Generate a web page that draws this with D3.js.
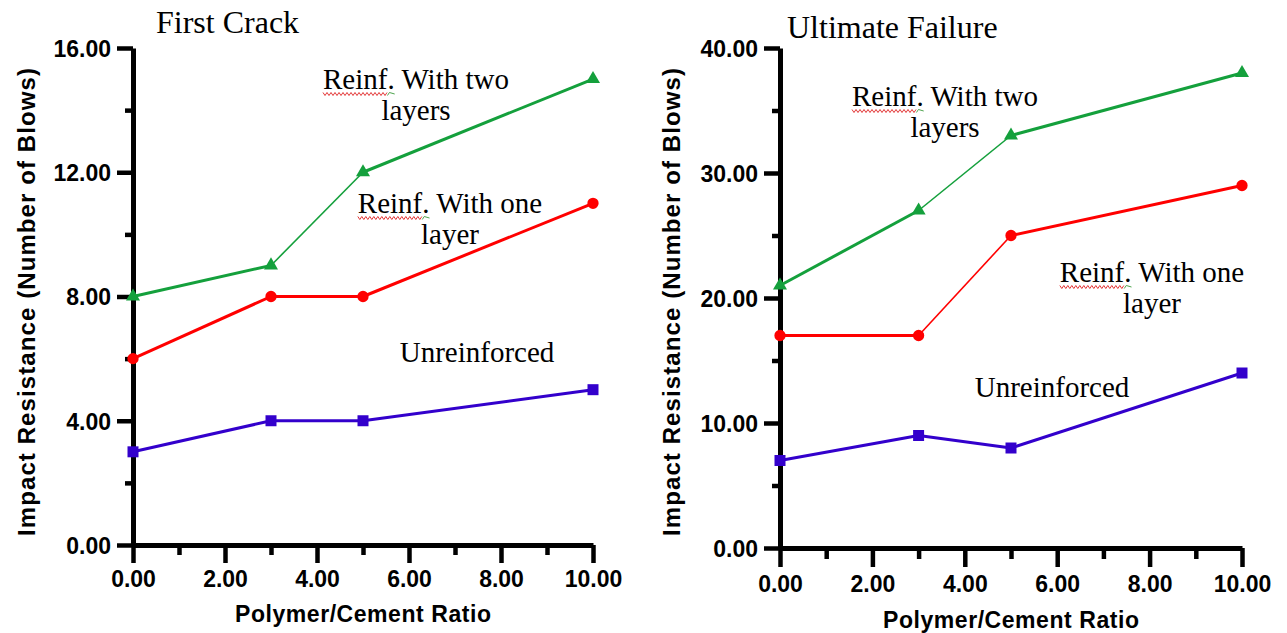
<!DOCTYPE html>
<html>
<head>
<meta charset="utf-8">
<script src="https://cdn.jsdelivr.net/npm/d3@7"></script>
<style>
  body { margin: 0; background: #fff; }
  svg { display: block; }
  .tick text { font-family: "Liberation Sans", Arial, sans-serif; font-weight: bold; font-size: 23px; fill: #000; }
  .domain { stroke: #000; stroke-width: 5px; }
  .tick line { stroke: #000; stroke-width: 4.5px; }
  .axisTitle { font-family: "Liberation Sans", Arial, sans-serif; font-weight: bold; fill: #000; }
  .panelTitle, .note { font-family: "Liberation Serif", "Times New Roman", serif; fill: #000; }
</style>
</head>
<body>
<div id="chart"></div>
<script>
// data
var ratio = [0, 3, 5, 10];

var crackUnreinforced = [3, 4, 4, 5];
var crackOneLayer = [6, 8, 8, 11];
var crackTwoLayers = [8, 9, 12, 15];

var failUnreinforced = [7, 9, 8, 14];
var failOneLayer = [17, 17, 25, 29];
var failTwoLayers = [21, 27, 33, 38];

var xTicks = [0, 2, 4, 6, 8, 10];
var xMinor = [1, 3, 5, 7, 9];
var crackTicks = [0, 4, 8, 12, 16];
var crackMinor = [2, 6, 10, 14];
var failTicks = [0, 10, 20, 30, 40];
var failMinor = [5, 15, 25, 35];

var colors = { two: "#14a03c", one: "#ff0000", un: "#3300cc" };

var svg = d3.select("#chart").append("svg")
  .attr("width", 1287)
  .attr("height", 633);

function drawPanel(p) {
  var x = d3.scaleLinear().domain([0, 10]).range(p.xRange);
  var y = d3.scaleLinear().domain(p.yDomain).range(p.yRange);
  var g = svg.append("g");

  // minor ticks first, major on top
  g.append("g")
    .attr("transform", "translate(0," + p.yRange[0] + ")")
    .call(d3.axisBottom(x).tickValues(xMinor).tickSize(p.xMinorLen).tickFormat(""))
    .call(function(a) { a.select(".domain").remove(); });
  g.append("g")
    .attr("transform", "translate(" + p.xRange[0] + ",0)")
    .call(d3.axisLeft(y).tickValues(p.yMinor).tickSize(8).tickFormat(""))
    .call(function(a) { a.select(".domain").remove(); });

  g.append("g")
    .attr("transform", "translate(0," + p.yRange[0] + ")")
    .call(d3.axisBottom(x).tickValues(xTicks).tickSize(p.xMajorLen).tickSizeOuter(0)
      .tickPadding(p.xPad).tickFormat(d3.format(".2f")));
  var yAxis = g.append("g")
    .attr("transform", "translate(" + p.xRange[0] + ",0)")
    .call(d3.axisLeft(y).tickValues(p.yTicks).tickSize(16).tickSizeOuter(0)
      .tickPadding(6).tickFormat(d3.format(".2f")));

  yAxis.selectAll(".tick text").attr("dy", "0.36em");

  // series
  p.series.forEach(function(s) {
    for (var i = 0; i < ratio.length - 1; i++) {
      g.append("line")
        .attr("x1", x(ratio[i])).attr("y1", y(s.values[i]))
        .attr("x2", x(ratio[i + 1])).attr("y2", y(s.values[i + 1]))
        .attr("stroke", s.color)
        .attr("stroke-width", s.thin.indexOf(i) >= 0 ? 1.6 : 3);
    }
    g.selectAll(null).data(s.values).enter().append("path")
      .attr("d", d3.symbol().type(s.symbol).size(s.size))
      .attr("transform", function(d, i) { return "translate(" + x(ratio[i]) + "," + y(d) + ")"; })
      .attr("fill", s.color);
  });

  // titles
  g.append("text").attr("class", "panelTitle")
    .attr("x", p.title.x).attr("y", p.title.y)
    .style("font-size", "32px")
    .text(p.title.text);

  g.append("text").attr("class", "axisTitle")
    .attr("x", p.xTitle.x).attr("y", p.xTitle.y)
    .attr("text-anchor", "middle")
    .style("font-size", "23px")
    .attr("textLength", 256).attr("lengthAdjust", "spacing")
    .text("Polymer/Cement Ratio");

  g.append("text").attr("class", "axisTitle")
    .attr("transform", "translate(" + p.yTitle.x + "," + p.yTitle.y + ") rotate(-90)")
    .attr("text-anchor", "middle")
    .style("font-size", "24px")
    .attr("textLength", 468).attr("lengthAdjust", "spacing")
    .text("Impact Resistance (Number of Blows)");

  // notes
  p.notes.forEach(function(n) {
    n.lines.forEach(function(line, k) {
      var t = g.append("text").attr("class", "note")
        .attr("x", n.x).attr("y", n.y + k * 31)
        .attr("text-anchor", "middle")
        .style("font-size", "29px")
        .text(line);
      if (line.indexOf("Reinf.") === 0) {
        // spell-check squiggle under "Reinf."
        var node = t.node();
        var start = node.getStartPositionOfChar(0).x;
        var wordEnd = node.getEndPositionOfChar(4).x;
        var dotEnd = node.getEndPositionOfChar(5).x;
        var yy = n.y + k * 31 + 5;
        var pts = [];
        for (var px = start, j = 0; px <= wordEnd; px += 2, j++) {
          pts.push([px, yy + (j % 2 ? 1.5 : -1.5)]);
        }
        g.append("path").attr("d", d3.line()(pts))
          .attr("fill", "none").attr("stroke", "#e02020").attr("stroke-width", 0.9);
        g.append("path").attr("d", d3.line()([[wordEnd, yy + 1.5], [wordEnd + 2, yy - 1.5], [dotEnd, yy]]))
          .attr("fill", "none").attr("stroke", "#3a9a3a").attr("stroke-width", 0.9);
      }
    });
  });
}

drawPanel({
  xRange: [133, 593],
  yRange: [545, 48],
  yDomain: [0, 16],
  yTicks: crackTicks,
  yMinor: crackMinor,
  xMajorLen: 18,
  xMinorLen: 10,
  xPad: 8,
  series: [
    { values: crackUnreinforced, color: colors.un, symbol: d3.symbolSquare, size: 121, thin: [] },
    { values: crackOneLayer, color: colors.one, symbol: d3.symbolCircle, size: 100, thin: [] },
    { values: crackTwoLayers, color: colors.two, symbol: d3.symbolTriangle, size: 85, thin: [1] }
  ],
  title: { text: "First Crack", x: 156, y: 33 },
  xTitle: { x: 363, y: 622 },
  yTitle: { x: 35, y: 302 },
  notes: [
    { lines: ["Reinf. With two", "layers"], x: 416, y: 89 },
    { lines: ["Reinf. With one", "layer"], x: 450, y: 213 },
    { lines: ["Unreinforced"], x: 477, y: 362 }
  ]
});

drawPanel({
  xRange: [780, 1242],
  yRange: [548, 48],
  yDomain: [0, 40],
  yTicks: failTicks,
  yMinor: failMinor,
  xMajorLen: 19,
  xMinorLen: 11,
  xPad: 9,
  series: [
    { values: failUnreinforced, color: colors.un, symbol: d3.symbolSquare, size: 121, thin: [] },
    { values: failOneLayer, color: colors.one, symbol: d3.symbolCircle, size: 100, thin: [1] },
    { values: failTwoLayers, color: colors.two, symbol: d3.symbolTriangle, size: 85, thin: [1] }
  ],
  title: { text: "Ultimate Failure", x: 787, y: 38 },
  xTitle: { x: 1011, y: 628 },
  yTitle: { x: 680, y: 302 },
  notes: [
    { lines: ["Reinf. With two", "layers"], x: 945, y: 106 },
    { lines: ["Reinf. With one", "layer"], x: 1152, y: 282 },
    { lines: ["Unreinforced"], x: 1052, y: 397 }
  ]
});
</script>
</body>
</html>
